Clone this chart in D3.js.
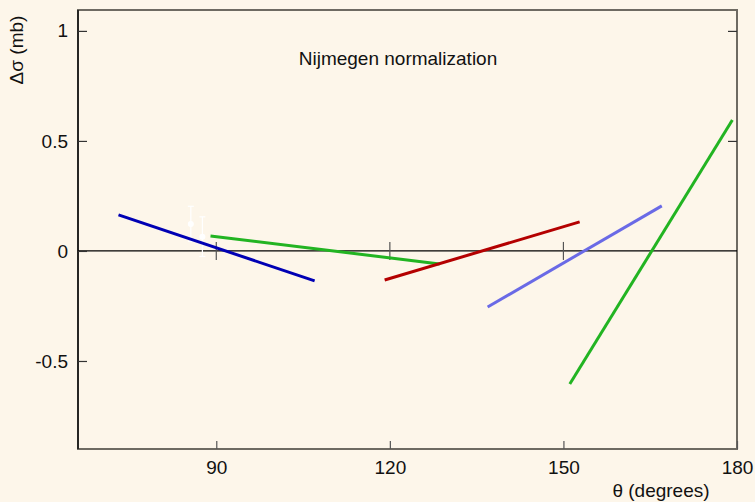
<!DOCTYPE html>
<html>
<head>
<meta charset="utf-8">
<script src="https://cdn.jsdelivr.net/npm/d3@7"></script>
<style>
  body { margin: 0; background: #fdf6ea; }
  svg { display: block; font-family: "Liberation Sans", Arial, sans-serif; }
</style>
</head>
<body>
<div id="chart"></div>
<script>
// Data: each fit line runs from (x0, y0) to (x1, y1) in degrees / mb
const lineNames = ['blue', 'green1', 'red', 'violet', 'green2'];
const lineX0 = [73.1, 89.0, 119.1, 136.9, 151.1];
const lineY0 = [0.164, 0.068, -0.132, -0.255, -0.605];
const lineX1 = [107.0, 128.6, 152.8, 167.0, 179.2];
const lineY1 = [-0.136, -0.059, 0.132, 0.205, 0.595];
const lineColors = ['#0000b4', '#22b422', '#b40000', '#6a6ae6', '#22b422'];

// faint white data points with error bars
const ptX = [85.6, 87.6];
const ptY = [0.123, 0.065];
const ptErr = [0.16, 0.18];

const xTicks = [90, 120, 150, 180];
const yTicks = [-0.5, 0, 0.5, 1];
const yTickLabels = ['-0.5', '0', '0.5', '1'];

const width = 755;
const height = 502;
const margin = { top: 10, right: 18, bottom: 53, left: 78 };
const fontSize = 19;

const svg = d3.select('#chart')
  .append('svg')
  .attr('width', width)
  .attr('height', height);

svg.append('rect')
  .attr('width', width)
  .attr('height', height)
  .attr('fill', '#fdf6ea');

const x = d3.scaleLinear()
  .domain([66.1, 180])
  .range([margin.left, width - margin.right]);

const y = d3.scaleLinear()
  .domain([-0.9, 1.095])
  .range([height - margin.bottom, margin.top]);

// frame
svg.append('rect')
  .attr('x', margin.left)
  .attr('y', margin.top)
  .attr('width', width - margin.left - margin.right)
  .attr('height', height - margin.top - margin.bottom)
  .attr('fill', 'none')
  .attr('stroke', '#6e6a62')
  .attr('stroke-width', 2);

svg.append('line')
  .attr('x1', margin.left).attr('x2', margin.left)
  .attr('y1', margin.top).attr('y2', height - margin.bottom)
  .attr('stroke', '#111')
  .attr('stroke-width', 1.5);

// zero line
svg.append('line')
  .attr('x1', x.range()[0]).attr('x2', x.range()[1])
  .attr('y1', y(0)).attr('y2', y(0))
  .attr('stroke', '#000')
  .attr('stroke-width', 1.2);

// bottom axis (ticks inward)
const xAxis = svg.append('g')
  .attr('transform', `translate(0,${height - margin.bottom})`)
  .call(d3.axisBottom(x).tickValues(xTicks).tickSizeInner(-8).tickSizeOuter(0).tickPadding(12));
xAxis.select('.domain').remove();
xAxis.selectAll('line').attr('stroke', '#555').attr('stroke-width', 1.2);
xAxis.selectAll('text').attr('font-size', fontSize).attr('fill', '#111')
  .attr('font-family', '"Liberation Sans", Arial, sans-serif');

// left axis (ticks inward)
const yAxis = svg.append('g')
  .attr('transform', `translate(${margin.left},0)`)
  .call(d3.axisLeft(y).tickValues(yTicks).tickFormat((d, i) => yTickLabels[i])
    .tickSizeInner(-9).tickSizeOuter(0).tickPadding(10));
yAxis.select('.domain').remove();
yAxis.selectAll('line').attr('stroke', '#333').attr('stroke-width', 1.2);
yAxis.selectAll('text').attr('font-size', fontSize).attr('fill', '#111')
  .attr('font-family', '"Liberation Sans", Arial, sans-serif');

// right axis ticks
const yAxisR = svg.append('g')
  .attr('transform', `translate(${width - margin.right},0)`)
  .call(d3.axisRight(y).tickValues([0.5, 1]).tickSizeInner(-9).tickSizeOuter(0).tickFormat(''));
yAxisR.select('.domain').remove();
yAxisR.selectAll('line').attr('stroke', '#333').attr('stroke-width', 1.2);

// cross ticks on the zero line
svg.append('g')
  .selectAll('line')
  .data(xTicks.slice(0, 3))
  .join('line')
  .attr('x1', d => x(d)).attr('x2', d => x(d))
  .attr('y1', y(0) - 9).attr('y2', y(0) + 9)
  .attr('stroke', '#555')
  .attr('stroke-width', 1.2);

// white error points
const pts = svg.append('g');
ptX.forEach((px, i) => {
  pts.append('line')
    .attr('x1', x(px)).attr('x2', x(px))
    .attr('y1', y(ptY[i] + ptErr[i] / 2)).attr('y2', y(ptY[i] - ptErr[i] / 2))
    .attr('stroke', '#fff').attr('stroke-width', 1.2);
  [ptY[i] + ptErr[i] / 2, ptY[i] - ptErr[i] / 2].forEach(v => {
    pts.append('line')
      .attr('x1', x(px) - 3).attr('x2', x(px) + 3)
      .attr('y1', y(v)).attr('y2', y(v))
      .attr('stroke', '#fff').attr('stroke-width', 1.2);
  });
  pts.append('circle')
    .attr('cx', x(px)).attr('cy', y(ptY[i]))
    .attr('r', 3)
    .attr('fill', '#fff');
});

// fit lines
svg.append('g')
  .selectAll('line')
  .data(lineNames)
  .join('line')
  .attr('x1', (d, i) => x(lineX0[i]))
  .attr('y1', (d, i) => y(lineY0[i]))
  .attr('x2', (d, i) => x(lineX1[i]))
  .attr('y2', (d, i) => y(lineY1[i]))
  .attr('stroke', (d, i) => lineColors[i])
  .attr('stroke-width', 3);

// title and axis labels
svg.append('text')
  .attr('x', 398)
  .attr('y', 65)
  .attr('text-anchor', 'middle')
  .attr('font-size', fontSize)
  .attr('fill', '#111')
  .text('Nijmegen normalization');

svg.append('text')
  .attr('x', 661)
  .attr('y', 497)
  .attr('text-anchor', 'middle')
  .attr('font-size', fontSize)
  .attr('fill', '#111')
  .text('θ (degrees)');

svg.append('text')
  .attr('transform', 'translate(23,50) rotate(-90)')
  .attr('text-anchor', 'middle')
  .attr('font-size', fontSize)
  .attr('fill', '#111')
  .text('Δσ (mb)');
</script>
</body>
</html>
